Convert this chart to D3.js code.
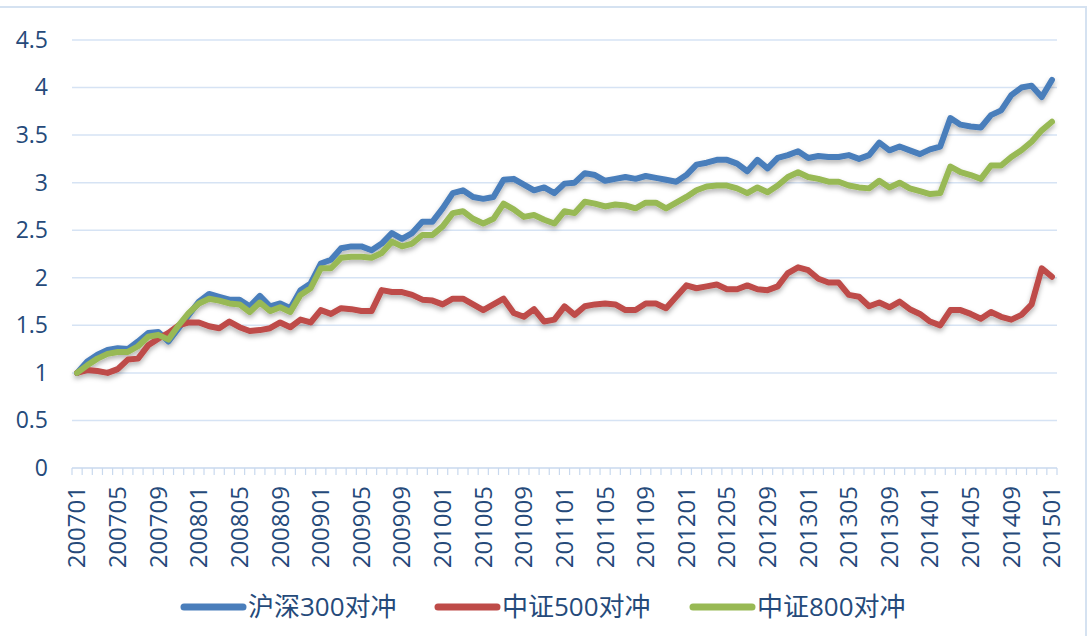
<!DOCTYPE html>
<html>
<head>
<meta charset="utf-8">
<script src="https://cdn.jsdelivr.net/npm/d3@7/dist/d3.min.js"></script>
<style>
  body { margin: 0; background: #fff; }
  svg { display: block; }
  text { font-family: "Open Sans", "Noto Sans CJK SC", sans-serif; fill: #254a7a; }
</style>
</head>
<body>
<div id="chart"></div>
<script>
// months on the category axis
var months = [
  "200701","200702","200703","200704","200705","200706","200707","200708","200709","200710","200711","200712",
  "200801","200802","200803","200804","200805","200806","200807","200808","200809","200810","200811","200812",
  "200901","200902","200903","200904","200905","200906","200907","200908","200909","200910","200911","200912",
  "201001","201002","201003","201004","201005","201006","201007","201008","201009","201010","201011","201012",
  "201101","201102","201103","201104","201105","201106","201107","201108","201109","201110","201111","201112",
  "201201","201202","201203","201204","201205","201206","201207","201208","201209","201210","201211","201212",
  "201301","201302","201303","201304","201305","201306","201307","201308","201309","201310","201311","201312",
  "201401","201402","201403","201404","201405","201406","201407","201408","201409","201410","201411","201412",
  "201501"
];

// 沪深300对冲
var hs300 = [
  1.00,1.12,1.19,1.24,1.26,1.25,1.33,1.42,1.43,1.33,1.47,1.61,
  1.75,1.83,1.80,1.77,1.77,1.70,1.81,1.70,1.73,1.68,1.87,1.94,
  2.15,2.19,2.31,2.33,2.33,2.29,2.36,2.47,2.41,2.47,2.59,2.59,
  2.73,2.89,2.92,2.85,2.83,2.85,3.03,3.04,2.98,2.92,2.95,2.89,
  2.99,3.00,3.10,3.08,3.02,3.04,3.06,3.04,3.07,3.05,3.03,3.01,
  3.08,3.19,3.21,3.24,3.24,3.20,3.12,3.24,3.15,3.26,3.29,3.33,
  3.26,3.28,3.27,3.27,3.29,3.25,3.29,3.42,3.34,3.38,3.34,3.30,
  3.35,3.38,3.68,3.61,3.59,3.58,3.71,3.76,3.92,4.00,4.02,3.90,
  4.08
];

// 中证500对冲
var zz500 = [
  1.00,1.03,1.02,1.00,1.04,1.14,1.15,1.29,1.36,1.42,1.50,1.53,
  1.53,1.49,1.47,1.54,1.48,1.44,1.45,1.47,1.53,1.48,1.56,1.53,
  1.66,1.62,1.68,1.67,1.65,1.65,1.87,1.85,1.85,1.82,1.77,1.76,
  1.72,1.78,1.78,1.72,1.66,1.72,1.78,1.63,1.59,1.67,1.54,1.56,
  1.70,1.61,1.70,1.72,1.73,1.72,1.66,1.66,1.73,1.73,1.68,1.80,
  1.92,1.89,1.91,1.93,1.88,1.88,1.92,1.88,1.87,1.91,2.05,2.11,
  2.08,1.99,1.95,1.95,1.82,1.80,1.70,1.74,1.69,1.75,1.67,1.62,
  1.54,1.50,1.66,1.66,1.62,1.57,1.64,1.59,1.56,1.61,1.72,2.10,
  2.01
];

// 中证800对冲
var zz800 = [
  1.00,1.08,1.15,1.20,1.22,1.22,1.28,1.38,1.40,1.35,1.50,1.63,
  1.73,1.78,1.76,1.73,1.72,1.64,1.74,1.65,1.69,1.64,1.82,1.89,
  2.10,2.10,2.21,2.22,2.22,2.21,2.26,2.38,2.33,2.36,2.45,2.45,
  2.54,2.68,2.70,2.62,2.57,2.62,2.78,2.72,2.64,2.66,2.61,2.57,
  2.70,2.68,2.80,2.78,2.75,2.77,2.76,2.73,2.79,2.79,2.73,2.79,
  2.85,2.92,2.96,2.97,2.97,2.94,2.89,2.95,2.90,2.97,3.06,3.11,
  3.06,3.04,3.01,3.01,2.97,2.95,2.94,3.02,2.95,3.00,2.94,2.91,
  2.88,2.89,3.17,3.11,3.08,3.04,3.18,3.18,3.27,3.34,3.43,3.55,
  3.64
];

var seriesNames = ["沪深300对冲", "中证500对冲", "中证800对冲"];
var seriesColors = ["#4a7ebb", "#be4b48", "#98b954"];
var yTicks = [0, 0.5, 1, 1.5, 2, 2.5, 3, 3.5, 4, 4.5];

var width = 1089;
var height = 636;
var plotLeft = 72, plotRight = 1057, plotTop = 40, plotBottom = 468;

var svg = d3.select("#chart").append("svg")
  .attr("width", width)
  .attr("height", height);

// soft drop shadow under the lines
var defs = svg.append("defs");
var shadow = defs.append("filter").attr("id", "shadow")
  .attr("x", "-5%").attr("y", "-20%").attr("width", "110%").attr("height", "140%");
shadow.append("feDropShadow")
  .attr("dx", 0).attr("dy", 3).attr("stdDeviation", 2.5)
  .attr("flood-color", "#000").attr("flood-opacity", 0.3);

// chart frame
svg.append("rect")
  .attr("x", -2).attr("y", 7)
  .attr("width", 1088).attr("height", 640)
  .attr("fill", "none")
  .attr("stroke", "#d5e2f1")
  .attr("stroke-width", 2);

var x = d3.scaleBand().domain(months).range([plotLeft, plotRight]).padding(0);
var y = d3.scaleLinear().domain([0, 4.5]).range([plotBottom, plotTop]);

function cx(m) { return x(m) + x.bandwidth() / 2; }

// horizontal gridlines
svg.append("g").selectAll("line")
  .data(yTicks.slice(1))
  .enter().append("line")
  .attr("x1", plotLeft).attr("x2", plotRight)
  .attr("y1", function(d) { return y(d); })
  .attr("y2", function(d) { return y(d); })
  .attr("stroke", "#d6e3f4")
  .attr("stroke-width", 1.5);

// y labels
var yAxis = d3.axisLeft(y).tickValues(yTicks).tickSize(0).tickPadding(0)
  .tickFormat(function(d) { return d; });
var yg = svg.append("g")
  .attr("transform", "translate(48,0)")
  .call(yAxis);
yg.select(".domain").remove();
yg.selectAll("text")
  .attr("font-size", 23)
  .attr("font-family", null)
  .attr("fill", "#254a7a");

// x axis line + ticks between categories
var xg = svg.append("g").attr("class", "xAxis");
xg.append("line")
  .attr("x1", plotLeft).attr("x2", plotRight)
  .attr("y1", plotBottom).attr("y2", plotBottom)
  .attr("stroke", "#c9d9ee").attr("stroke-width", 1.5);
xg.selectAll("line.tick")
  .data(months.concat(["end"]))
  .enter().append("line")
  .attr("class", "tick")
  .attr("x1", function(d, i) { return plotLeft + i * x.bandwidth(); })
  .attr("x2", function(d, i) { return plotLeft + i * x.bandwidth(); })
  .attr("y1", plotBottom).attr("y2", plotBottom + 7)
  .attr("stroke", "#c9d9ee").attr("stroke-width", 1.2);

xg.selectAll("text")
  .data(months.filter(function(d, i) { return i % 4 === 0; }))
  .enter().append("text")
  .attr("transform", function(d) { return "translate(" + cx(d) + ",486)rotate(-90)"; })
  .attr("text-anchor", "end")
  .attr("dy", "0.35em")
  .attr("font-size", 24)
  .text(function(d) { return d; });

// lines
var allSeries = [hs300, zz500, zz800];
var line = d3.line()
  .x(function(d, i) { return cx(months[i]); })
  .y(function(d) { return y(d); });

svg.append("g").attr("filter", "url(#shadow)")
  .selectAll("path")
  .data(allSeries)
  .enter().append("path")
  .attr("d", function(d) { return line(d); })
  .attr("fill", "none")
  .attr("stroke", function(d, i) { return seriesColors[i]; })
  .attr("stroke-width", 6)
  .attr("stroke-linejoin", "round")
  .attr("stroke-linecap", "round");

// legend
var legendX = [184, 438, 693];
var legend = svg.append("g").selectAll("g")
  .data(seriesNames)
  .enter().append("g")
  .attr("transform", function(d, i) { return "translate(" + legendX[i] + ",607)"; });
legend.append("line")
  .attr("x1", 0).attr("x2", 59)
  .attr("y1", 0).attr("y2", 0)
  .attr("stroke", function(d, i) { return seriesColors[i]; })
  .attr("stroke-width", 7)
  .attr("stroke-linecap", "round");
legend.append("text")
  .attr("x", 64)
  .attr("dy", "0.35em")
  .attr("font-size", 26)
  .text(function(d) { return d; });
</script>
</body>
</html>
